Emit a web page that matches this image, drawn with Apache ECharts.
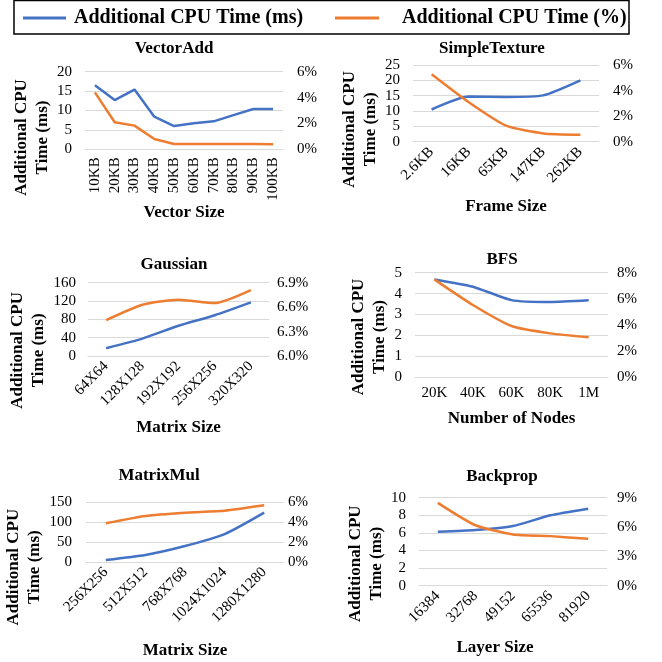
<!DOCTYPE html>
<html><head><meta charset="utf-8">
<script src="https://cdn.jsdelivr.net/npm/echarts@6/dist/echarts.min.js"></script>
<style>html,body{margin:0;padding:0;background:#fff}#c{width:662px;height:662px}</style>
</head><body><div id="c"></div>
<script>
// ---- data ----
const seriesNames = ['Additional CPU Time (ms)', 'Additional CPU Time (%)'];
const yTitle = 'Additional CPU\nTime (ms)';

const vecTitle = 'VectorAdd', vecXName = 'Vector Size';
const vecCats = ['10KB','20KB','30KB','40KB','50KB','60KB','70KB','80KB','90KB','100KB'];
const vecMs  = [16.5, 12.7, 15.4, 8.4, 6.0, 6.7, 7.2, 8.8, 10.4, 10.4];
const vecPct = [4.4, 2.09, 1.83, 0.8, 0.41, 0.41, 0.41, 0.41, 0.41, 0.39];
const vecLeftTicks = [0, 20, 5], vecRightTicks = [0, 6, 2];

const texTitle = 'SimpleTexture', texXName = 'Frame Size';
const texCats = ['2.6KB','16KB','65KB','147KB','262KB'];
const texMs  = [10.5, 14.7, 14.6, 15.1, 20.0];
const texPct = [5.27, 3.08, 1.25, 0.65, 0.55];
const texLeftTicks = [0, 25, 5], texRightTicks = [0, 6, 2];

const gauTitle = 'Gaussian', gauXName = 'Matrix Size';
const gauCats = ['64X64','128X128','192X192','256X256','320X320'];
const gauMs  = [17, 38, 66, 89, 117];
const gauPct = [6.44, 6.63, 6.69, 6.65, 6.81];
const gauLeftTicks = [0, 160, 40], gauRightTicks = [6.0, 6.9, 0.3];

const bfsTitle = 'BFS', bfsXName = 'Number of Nodes';
const bfsCats = ['20K','40K','60K','80K','1M'];
const bfsMs  = [4.68, 4.33, 3.69, 3.6, 3.68];
const bfsPct = [7.49, 5.53, 3.92, 3.36, 3.06];
const bfsLeftTicks = [0, 5, 1], bfsRightTicks = [0, 8, 2];

const mmTitle = 'MatrixMul', mmXName = 'Matrix Size';
const mmCats = ['256X256','512X512','768X768','1024X1024','1280X1280'];
const mmMs  = [5, 17.6, 40, 70, 124];
const mmPct = [3.89, 4.63, 4.96, 5.16, 5.70];
const mmLeftTicks = [0, 150, 50], mmRightTicks = [0, 6, 2];

const bpTitle = 'Backprop', bpXName = 'Layer Size';
const bpCats = ['16384','32768','49152','65536','81920'];
const bpMs  = [6.14, 6.33, 6.78, 8.0, 8.75];
const bpPct = [8.47, 6.18, 5.24, 5.07, 4.79];
const bpLeftTicks = [0, 10, 2], bpRightTicks = [0, 9, 3];

// ---- layout / style ----
const FONT = "'Liberation Serif','Times New Roman',serif";
const BLUE = '#4472C4', ORANGE = '#ED7D31';
const panels = [
  {title: vecTitle, xName: vecXName, cats: vecCats, ms: vecMs, pct: vecPct, lt: vecLeftTicks, rt: vecRightTicks,
   g: {left: 85, top: 71.7, right: 283, bottom: 149.3}, tc: [174, 47], rot: 90, smooth: false,
   yGap: 31, yOff: 27, xGap: 52, xOff: 0, lm: 13, rm: 14, dec: 0},
  {title: texTitle, xName: texXName, cats: texCats, ms: texMs, pct: texPct, lt: texLeftTicks, rt: texRightTicks,
   g: {left: 413, top: 65, right: 599, bottom: 141.7}, tc: [492, 47], rot: 45, smooth: 0.2,
   yGap: 30, yOff: 26, xGap: 56, xOff: 0, lm: 13, rm: 14, dec: 0},
  {title: gauTitle, xName: gauXName, cats: gauCats, ms: gauMs, pct: gauPct, lt: gauLeftTicks, rt: gauRightTicks,
   g: {left: 88, top: 282.7, right: 269, bottom: 356}, tc: [174, 263], rot: 45, smooth: 0.2,
   yGap: 35, yOff: 31, xGap: 63, xOff: 0, lm: 12, rm: 8, dec: 1},
  {title: bfsTitle, xName: bfsXName, cats: bfsCats, ms: bfsMs, pct: bfsPct, lt: bfsLeftTicks, rt: bfsRightTicks,
   g: {left: 415, top: 272.7, right: 608, bottom: 377.3}, tc: [502, 258], rot: 0, smooth: 0.2,
   yGap: 22, yOff: 12, xGap: 33, xOff: 0, lm: 13, rm: 9, dec: 0},
  {title: mmTitle, xName: mmXName, cats: mmCats, ms: mmMs, pct: mmPct, lt: mmLeftTicks, rt: mmRightTicks,
   g: {left: 86, top: 502.3, right: 284, bottom: 562}, tc: [159, 474], rot: 45, smooth: 0.2,
   yGap: 33, yOff: 35, xGap: 80, xOff: 0, lm: 14, rm: 4, dec: 0},
  {title: bpTitle, xName: bpXName, cats: bpCats, ms: bpMs, pct: bpPct, lt: bpLeftTicks, rt: bpRightTicks,
   g: {left: 419, top: 497.7, right: 607, bottom: 585.7}, tc: [502, 475], rot: 45, smooth: 0.2,
   yGap: 29, yOff: 22, xGap: 53, xOff: -18, lm: 13, rm: 10, dec: 0}
];

const option = {
  animation: false,
  backgroundColor: '#fff',
  title: [], grid: [], xAxis: [], yAxis: [], series: [],
  legend: [
    {data: [seriesNames[0]], left: 23, top: 8, padding: 0, itemWidth: 43, itemHeight: 3, icon: 'rect',
     textStyle: {fontFamily: FONT, fontSize: 20, fontWeight: 'bold', color: '#000', padding: [0,0,0,3]}},
    {data: [seriesNames[1]], left: 335, top: 8, padding: 0, itemWidth: 44, itemHeight: 3, icon: 'rect',
     textStyle: {fontFamily: FONT, fontSize: 20, fontWeight: 'bold', color: '#000', padding: [0,0,0,18]}}
  ],
  graphic: [{type: 'rect', shape: {x: 14, y: 0.5, width: 615, height: 33.5}, style: {fill: 'none', stroke: '#000', lineWidth: 1.5}}]
};

panels.forEach((p, i) => {
  option.title.push({text: p.title, left: p.tc[0], top: p.tc[1] - 7, textAlign: 'center', padding: 0,
    textStyle: {fontFamily: FONT, fontSize: 17, fontWeight: 'bold', color: '#000'}});
  option.grid.push({left: p.g.left, top: p.g.top, width: p.g.right - p.g.left, height: p.g.bottom - p.g.top,
    containLabel: false, outerBoundsMode: 'none'});
  option.xAxis.push({type: 'category', gridIndex: i, data: p.cats, boundaryGap: true,
    axisLine: {show: true, lineStyle: {color: '#d9d9d9'}}, axisTick: {show: false},
    axisLabel: {interval: 0, rotate: p.rot, margin: 8, fontFamily: FONT, fontSize: 15, color: '#000'},
    name: p.xName, nameLocation: 'middle', nameGap: p.xGap,
    nameTextStyle: {fontFamily: FONT, fontSize: 17, fontWeight: 'bold', color: '#000',
      padding: p.xOff < 0 ? [0, -2 * p.xOff, 0, 0] : [0, 0, 0, 2 * p.xOff]}});
  option.yAxis.push({type: 'value', gridIndex: i, position: 'left', min: p.lt[0], max: p.lt[1], interval: p.lt[2],
    axisLine: {show: false}, axisTick: {show: false},
    splitLine: {show: true, lineStyle: {color: '#d9d9d9', width: 1}},
    axisLabel: {margin: p.lm, fontFamily: FONT, fontSize: 15, color: '#000'},
    name: yTitle, nameLocation: 'middle', nameRotate: 90, nameGap: p.yGap,
    nameTextStyle: {fontFamily: FONT, fontSize: 17, fontWeight: 'bold', color: '#000', lineHeight: 21,
      padding: [0, 2 * p.yOff, 0, 0]}});
  const dec = p.dec;
  option.yAxis.push({type: 'value', gridIndex: i, position: 'right', min: p.rt[0], max: p.rt[1], interval: p.rt[2],
    axisLine: {show: false}, axisTick: {show: false}, splitLine: {show: false},
    axisLabel: {margin: p.rm, fontFamily: FONT, fontSize: 15, color: '#000',
      formatter: v => v.toFixed(dec) + '%'}});
  option.series.push({name: seriesNames[0], type: 'line', xAxisIndex: i, yAxisIndex: 2 * i, data: p.ms,
    symbol: 'none', smooth: p.smooth, lineStyle: {color: BLUE, width: 2.5}, itemStyle: {color: BLUE}});
  option.series.push({name: seriesNames[1], type: 'line', xAxisIndex: i, yAxisIndex: 2 * i + 1, data: p.pct,
    symbol: 'none', smooth: p.smooth, lineStyle: {color: ORANGE, width: 2.5}, itemStyle: {color: ORANGE}});
});

const chart = echarts.init(document.getElementById('c'), null, {renderer: 'canvas'});
chart.setOption(option);
</script></body></html>
